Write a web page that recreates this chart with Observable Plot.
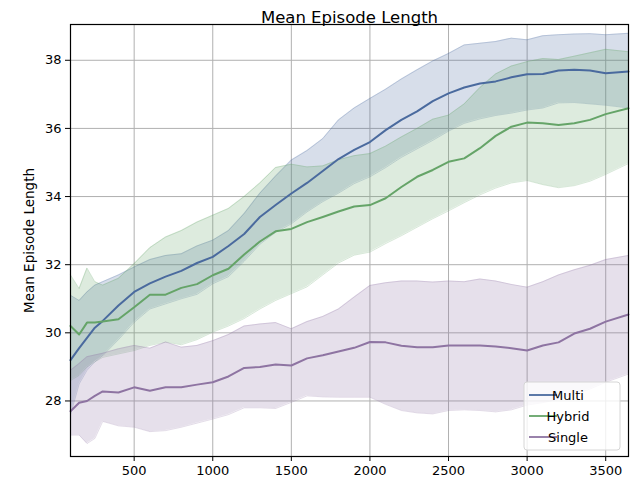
<!DOCTYPE html>
<html>
<head>
<meta charset="utf-8">
<script src="https://cdn.jsdelivr.net/npm/d3@7"></script>
<script src="https://cdn.jsdelivr.net/npm/@observablehq/plot@0.6"></script>
<style>
  html, body { margin: 0; padding: 0; background: #fff; }
  #chart { position: relative; width: 640px; height: 480px; }
</style>
</head>
<body>
<div id="chart"></div>
<script>
const steps = [95, 150, 200, 250, 300, 400, 500, 600, 700, 800, 900, 1000, 1100, 1200, 1300, 1400, 1500, 1600, 1700, 1800, 1900, 2000, 2100, 2200, 2300, 2400, 2500, 2600, 2700, 2800, 2900, 3000, 3100, 3200, 3300, 3400, 3500, 3645];

const multiMean = [29.2, 29.55, 29.85, 30.15, 30.35, 30.8, 31.2, 31.45, 31.65, 31.82, 32.05, 32.23, 32.55, 32.9, 33.4, 33.75, 34.09, 34.4, 34.75, 35.1, 35.37, 35.6, 35.95, 36.25, 36.5, 36.8, 37.03, 37.2, 37.32, 37.38, 37.5, 37.59, 37.6, 37.7, 37.72, 37.7, 37.62, 37.67];
const multiHi = [31.1, 30.95, 31.2, 31.4, 31.5, 31.7, 31.93, 32.15, 32.27, 32.32, 32.55, 32.72, 33.0, 33.5, 34.1, 34.6, 35.07, 35.35, 35.7, 36.25, 36.6, 36.88, 37.15, 37.45, 37.72, 37.98, 38.2, 38.45, 38.5, 38.55, 38.65, 38.6, 38.72, 38.75, 38.77, 38.78, 38.75, 38.79];
const multiLo = [27.6, 28.5, 28.9, 29.15, 29.33, 29.8, 30.31, 30.7, 30.85, 31.0, 31.13, 31.44, 31.65, 32.1, 32.6, 32.95, 33.2, 33.55, 33.85, 34.1, 34.38, 34.58, 34.85, 35.15, 35.4, 35.65, 35.92, 36.15, 36.28, 36.38, 36.45, 36.54, 36.6, 36.75, 36.76, 36.72, 36.68, 36.6];

const hybridMean = [30.2, 29.95, 30.3, 30.3, 30.33, 30.4, 30.75, 31.12, 31.12, 31.32, 31.43, 31.69, 31.88, 32.3, 32.68, 32.98, 33.05, 33.25, 33.4, 33.56, 33.71, 33.75, 33.95, 34.28, 34.58, 34.78, 35.02, 35.12, 35.42, 35.78, 36.05, 36.17, 36.15, 36.1, 36.15, 36.25, 36.42, 36.59];
const hybridHi = [31.7, 31.3, 31.9, 31.5, 31.4, 31.6, 32.03, 32.5, 32.81, 33.0, 33.25, 33.45, 33.65, 34.0, 34.4, 34.85, 34.95, 34.87, 34.9, 35.08, 35.2, 35.26, 35.48, 35.75, 36.0, 36.27, 36.39, 36.72, 37.2, 37.6, 37.83, 37.96, 38.05, 38.02, 38.12, 38.22, 38.32, 38.25];
const hybridLo = [28.6, 28.75, 29.0, 29.15, 29.28, 29.38, 29.48, 29.63, 29.73, 29.65, 29.8, 30.02, 30.2, 30.42, 30.7, 30.95, 31.15, 31.35, 31.7, 32.05, 32.28, 32.37, 32.62, 32.85, 33.1, 33.35, 33.58, 33.82, 34.05, 34.25, 34.4, 34.47, 34.35, 34.26, 34.32, 34.45, 34.65, 34.97];

const singleMean = [27.7, 27.95, 28.0, 28.15, 28.28, 28.25, 28.4, 28.3, 28.4, 28.4, 28.48, 28.55, 28.72, 28.97, 29.0, 29.07, 29.04, 29.25, 29.34, 29.45, 29.56, 29.73, 29.72, 29.62, 29.58, 29.58, 29.63, 29.63, 29.63, 29.6, 29.55, 29.48, 29.63, 29.72, 29.98, 30.12, 30.33, 30.54];
const singleHi = [28.9, 29.1, 29.3, 29.35, 29.4, 29.53, 29.63, 29.55, 29.73, 29.58, 29.63, 29.77, 29.95, 30.2, 30.26, 30.3, 30.12, 30.33, 30.48, 30.7, 31.05, 31.39, 31.47, 31.52, 31.52, 31.49, 31.52, 31.5, 31.58, 31.52, 31.42, 31.34, 31.5, 31.7, 31.85, 31.98, 32.15, 32.27];
const singleLo = [27.0, 27.0, 26.75, 26.9, 27.4, 27.27, 27.23, 27.1, 27.13, 27.23, 27.35, 27.47, 27.6, 27.8, 27.8, 27.78, 27.96, 28.15, 28.12, 28.11, 28.11, 28.11, 27.9, 27.72, 27.65, 27.62, 27.72, 27.74, 27.72, 27.68, 27.74, 27.88, 27.95, 28.05, 28.2, 28.35, 28.55, 28.79];

const seriesNames = ["Multi", "Hybrid", "Single"];
const seriesColors = ["#4a6a9e", "#65a468", "#8e74a2"];
const xTicks = [500, 1000, 1500, 2000, 2500, 3000, 3500];
const yTicks = [28, 30, 32, 34, 36, 38];

const seriesData = [
  {name: "Multi", mean: multiMean, lo: multiLo, hi: multiHi},
  {name: "Hybrid", mean: hybridMean, lo: hybridLo, hi: hybridHi},
  {name: "Single", mean: singleMean, lo: singleLo, hi: singleHi}
];
const rows = seriesData.flatMap(s => steps.map((x, i) => ({series: s.name, x, mean: s.mean[i], lo: s.lo[i], hi: s.hi[i]})));

const colorOf = Object.fromEntries(seriesNames.map((n, i) => [n, seriesColors[i]]));

const marks = [
  Plot.gridX(xTicks, {stroke: "#b0b0b0", strokeOpacity: 1, strokeWidth: 1}),
  Plot.gridY(yTicks, {stroke: "#b0b0b0", strokeOpacity: 1, strokeWidth: 1})
];
for (const s of seriesNames) {
  const d = rows.filter(r => r.series === s);
  const c = colorOf[s];
  marks.push(Plot.areaY(d, {x: "x", y1: "lo", y2: "hi", fill: c, fillOpacity: 0.22}));
  marks.push(Plot.line(d, {x: "x", y: "lo", stroke: c, strokeOpacity: 0.25, strokeWidth: 1}));
  marks.push(Plot.line(d, {x: "x", y: "hi", stroke: c, strokeOpacity: 0.25, strokeWidth: 1}));
}
for (const s of seriesNames) {
  const d = rows.filter(r => r.series === s);
  marks.push(Plot.line(d, {x: "x", y: "mean", stroke: colorOf[s], strokeWidth: 2}));
}
marks.push(Plot.axisX(xTicks, {tickSize: 5, tickPadding: 4, fontSize: 13, label: null, tickFormat: d => String(d)}));
marks.push(Plot.axisY(yTicks, {tickSize: 5, tickPadding: 4, fontSize: 13, label: null, tickFormat: d => String(d)}));
marks.push(Plot.frame({stroke: "black", strokeWidth: 1.2}));
marks.push(Plot.text(["Mean Episode Length"], {frameAnchor: "top", dy: -13, fontSize: 16.5, fill: "black"}));
marks.push(Plot.text(["Mean Episode Length"], {frameAnchor: "left", textAnchor: "middle", dx: -41, rotate: -90, fontSize: 13.5, fill: "black"}));

const chart = Plot.plot({
  width: 640,
  height: 480,
  marginLeft: 70,
  marginRight: 12,
  marginTop: 24,
  marginBottom: 24,
  style: {fontFamily: "DejaVu Sans", fontSize: "13px", color: "black", background: "white"},
  x: {domain: [95, 3645]},
  y: {domain: [26.37, 39.05]},
  marks
});
document.getElementById("chart").appendChild(chart);

// Legend (lower right, matplotlib style)
const svg = d3.select(chart);
const lg = svg.append("g").attr("transform", "translate(524,382)");
lg.append("rect").attr("x", 0).attr("y", 0).attr("width", 96).attr("height", 68)
  .attr("rx", 3).attr("fill", "white").attr("fill-opacity", 0.8)
  .attr("stroke", "#d6d6d6").attr("stroke-width", 1);
seriesNames.forEach((n, i) => {
  const y = 13 + i * 21;
  lg.append("line").attr("x1", 5).attr("x2", 33).attr("y1", y).attr("y2", y)
    .attr("stroke", seriesColors[i]).attr("stroke-width", 2).attr("stroke-opacity", 0.9);
  lg.append("text").attr("x", 44).attr("y", y).attr("dy", "0.35em")
    .attr("font-family", "DejaVu Sans").attr("font-size", 13).attr("fill", "black").text(n);
});
</script>
</body>
</html>
